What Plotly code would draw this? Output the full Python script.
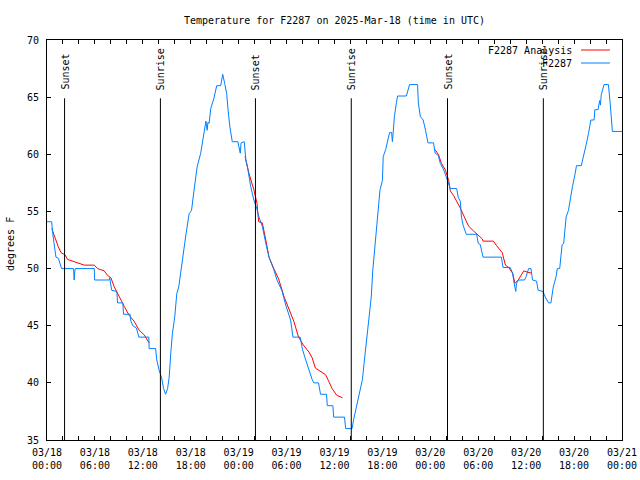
import pandas as pd
import plotly.graph_objects as go

BASE = pd.Timestamp("2025-03-18 00:00")

# Observed temperature (hours after 03/18 00:00 UTC, degrees F)
obs_hours = [0.00, 0.58, 0.71, 0.92, 1.12, 1.42, 1.62, 1.83, 3.33, 3.40, 3.46, 3.54, 5.92, 5.96,
             7.79, 7.85, 8.10, 8.75, 8.83, 9.50, 9.58, 10.40, 10.50, 10.75, 11.20, 11.50, 12.75,
             12.79, 13.60, 13.75, 14.04, 14.33, 14.60, 14.85, 15.10, 15.30, 15.50, 15.70, 16.00,
             16.25, 16.50, 16.80, 17.20, 17.40, 17.80, 18.10, 18.40, 18.80, 19.25, 19.46, 19.90,
             20.05, 20.15, 20.30, 20.50, 20.90, 21.25, 21.75, 22.00, 22.25, 22.50, 22.67, 22.90,
             23.20, 23.90, 24.20, 24.30, 24.70, 24.90, 25.10, 25.50, 25.90, 26.25, 26.50, 26.96,
             27.40, 27.80, 28.40, 28.80, 29.40, 29.90, 30.50, 30.80, 31.70, 32.00, 32.40, 32.80,
             33.20, 33.40, 34.00, 34.25, 35.00, 35.10, 35.80, 35.90, 37.25, 37.40, 38.20, 38.40,
             38.80, 39.20, 39.50, 39.70, 40.00, 40.30, 40.60, 40.80, 41.10, 41.40, 41.70, 42.00,
             42.10, 42.40, 42.60, 42.90, 43.15, 43.25, 43.35, 43.50, 43.75, 43.90, 45.00, 45.30,
             45.40, 46.40, 46.50, 46.75, 47.10, 47.40, 47.70, 48.40, 48.60, 49.00, 49.25, 49.70,
             50.00, 50.20, 50.50, 51.30, 51.50, 51.75, 51.90, 52.10, 52.50, 53.80, 54.00, 54.25,
             54.60, 56.90, 57.10, 58.00, 58.30, 58.50, 58.70, 58.80, 59.00, 59.80, 60.00, 60.30,
             60.60, 60.80, 61.30, 61.50, 62.10, 62.40, 62.80, 63.10, 63.40, 63.75, 63.90, 64.20,
             64.50, 64.70, 65.00, 65.30, 65.50, 65.80, 66.10, 66.30, 66.90, 67.20, 67.50, 67.80,
             68.10, 68.50, 68.60, 69.00, 69.20, 69.30, 69.40, 69.75, 70.30, 70.50, 70.60, 70.80,
             72.00]
obs_temps = [54.1, 54.1, 53.1, 52.2, 51.0, 50.9, 50.5, 50.0, 50.0, 49.0, 49.6, 50.0, 50.0, 49.0,
             49.0, 49.2, 48.1, 48.0, 47.0, 47.0, 46.0, 46.0, 45.4, 45.0, 44.8, 44.0, 44.0,
             43.0, 43.0, 42.0, 41.1, 40.5, 39.5, 39.0, 39.5, 40.5, 42.6, 44.3, 45.8,
             47.8, 48.4, 50.1, 51.9, 53.0, 54.8, 55.1, 56.8, 58.9, 60.1, 61.1, 62.9,
             62.1, 62.8, 62.7, 64.0, 64.9, 66.0, 66.0, 67.0, 66.2, 65.3, 63.9, 62.4,
             61.1, 61.1, 60.1, 61.0, 61.1, 59.5, 58.9, 57.2, 56.0, 55.3, 54.6, 53.7,
             52.2, 51.0, 49.9, 49.0, 48.1, 46.8, 45.5, 44.0, 44.0, 42.9, 42.0, 41.1,
             40.3, 40.0, 40.0, 39.0, 39.0, 38.0, 38.0, 37.0, 37.0, 36.0, 36.0, 36.8,
             38.0, 39.4, 40.3, 41.7, 43.5, 45.2, 47.5, 49.9, 52.2, 54.5, 56.9, 57.7,
             59.8, 60.4, 61.1, 61.9, 61.9, 61.1, 61.9, 63.3, 64.5, 65.1, 65.1, 65.8,
             66.1, 66.1, 64.5, 63.3, 63.0, 62.1, 61.0, 61.0, 60.1, 59.9, 59.2, 58.6,
             58.0, 57.6, 57.0, 57.0, 56.2, 55.9, 54.5, 53.8, 53.0, 53.0, 52.2, 52.1,
             51.0, 51.0, 50.1, 50.1, 49.6, 48.7, 48.0, 48.7, 49.0, 49.0, 49.3, 50.0,
             50.0, 49.0, 48.9, 48.1, 48.0, 47.5, 47.0, 47.0, 48.4, 49.3, 50.0, 50.0,
             52.1, 52.2, 54.5, 55.1, 56.0, 57.2, 58.2, 59.0, 59.0, 59.8, 60.8, 61.8,
             63.0, 63.0, 63.9, 63.9, 64.7, 64.3, 65.2, 66.1, 66.1, 64.6, 63.6, 62.0,
             62.0]

# Analysis temperature (three separate segments; None marks the gaps)
ana_hours = [0.60, 0.83, 1.125, 1.42, 1.75, 2.25, 2.58, 3.42, 4.67, 5.92, 6.33, 6.75, 7.17, 7.58,
             8.00, 8.42, 9.04, 9.67, 10.29, 10.90, 11.54, 12.17, 12.79, None,
             24.80, 25.30, 25.90, 26.30, 26.50, 26.96, 27.40, 27.80, 28.40, 29.00, 29.70, 30.30,
             30.90, 31.50, 32.10, 32.80, 33.20, 33.60, 34.25, 34.90, 35.30, 35.70, 36.30, 37.00, None,
             48.60, 49.00, 49.40, 49.90, 50.30, 50.50, 50.90, 51.30, 51.75, 52.20, 52.80, 53.40,
             54.00, 54.50, 54.60, 55.90, 56.30, 56.75, 57.00, 57.40, 57.80, 58.30, 58.60, 59.00,
             59.70, 60.10, 60.70]
ana_temps = [53.5, 53.0, 52.5, 51.9, 51.4, 51.2, 50.8, 50.6, 50.3, 50.3, 50.0, 49.9, 49.8, 49.4,
             49.2, 48.4, 47.5, 46.7, 45.9, 45.4, 44.6, 44.2, 43.5, None,
             59.8, 58.3, 56.9, 55.7, 54.1, 54.0, 52.5, 51.0, 50.0, 49.1, 47.5, 46.4,
             45.4, 44.0, 43.3, 42.7, 42.2, 41.3, 41.0, 40.7, 40.1, 39.5, 38.9, 38.7, None,
             60.4, 60.0, 59.2, 58.6, 57.7, 56.8, 56.4, 55.9, 55.3, 54.6, 53.7, 53.3,
             52.9, 52.6, 52.4, 52.4, 52.0, 51.6, 51.4, 50.3, 50.1, 49.6, 48.7, 49.0,
             49.8, 49.7, 49.6]

# Sun events (hours after 03/18 00:00 UTC)
sun_hours = [2.20, 14.20, 26.10, 38.10, 50.15, 62.15]
sun_labels = ["Sunset", "Sunrise", "Sunset", "Sunrise", "Sunset", "Sunrise"]

# X tick positions (hours) and labels
xtick_hours = [0, 6, 12, 18, 24, 30, 36, 42, 48, 54, 60, 66, 72]
xtick_labels = ["03/18<br>00:00", "03/18<br>06:00", "03/18<br>12:00", "03/18<br>18:00",
                "03/19<br>00:00", "03/19<br>06:00", "03/19<br>12:00", "03/19<br>18:00",
                "03/20<br>00:00", "03/20<br>06:00", "03/20<br>12:00", "03/20<br>18:00",
                "03/21<br>00:00"]
ytick_vals = [35, 40, 45, 50, 55, 60, 65, 70]

series_names = ["F2287 Analysis", "F2287"]
RED = "#ff0000"
BLUE = "#0080ff"
FONT = "DejaVu Sans Mono"


def to_time(hours):
    return [None if h is None else BASE + pd.Timedelta(hours=h) for h in hours]


fig = go.Figure()
fig.add_trace(go.Scatter(x=to_time(ana_hours), y=ana_temps, mode="lines",
                         line=dict(color=RED, width=1), name=series_names[0],
                         connectgaps=False, showlegend=False))
fig.add_trace(go.Scatter(x=to_time(obs_hours), y=obs_temps, mode="lines",
                         line=dict(color=BLUE, width=1), name=series_names[1],
                         showlegend=False))

shapes = []
annotations = []
for h, lab in zip(sun_hours, sun_labels):
    t = BASE + pd.Timedelta(hours=h)
    shapes.append(dict(type="line", xref="x", yref="y", x0=t, x1=t, y0=35, y1=64.9,
                       line=dict(color="black", width=1)))
    annotations.append(dict(x=t, y=65.45, xref="x", yref="y", text=lab, showarrow=False,
                            textangle=-90, xanchor="center", yanchor="bottom",
                            font=dict(family=FONT, size=10, color="black")))

# gnuplot-style key (text right-aligned, sample line on the right)
key_rows = [(0.975, RED), (0.9425, BLUE)]
for name, (ky, col) in zip(series_names, key_rows):
    annotations.append(dict(x=0.9165, y=ky, xref="paper", yref="paper", text=name,
                            showarrow=False, xanchor="right", yanchor="middle",
                            font=dict(family=FONT, size=10, color="black")))
    shapes.append(dict(type="line", xref="paper", yref="paper", x0=0.9287, x1=0.979,
                       y0=ky, y1=ky, line=dict(color=col, width=1)))

# y axis title
annotations.append(dict(x=-0.0643, y=0.49, xref="paper", yref="paper", text="degrees F",
                        showarrow=False, textangle=-90, xanchor="center", yanchor="middle",
                        font=dict(family=FONT, size=10, color="black")))

fig.update_layout(
    width=640, height=480,
    margin=dict(l=47, r=18, t=40, b=40, autoexpand=False),
    paper_bgcolor="white", plot_bgcolor="white",
    font=dict(family=FONT, size=10, color="black"),
    title=dict(text="Temperature for F2287 on 2025-Mar-18 (time in UTC)",
               x=0.5, xref="paper", xanchor="center",
               y=1 - 20 / 480, yref="container", yanchor="middle",
               font=dict(family=FONT, size=10, color="black"),
               automargin=False),
    shapes=shapes, annotations=annotations,
    showlegend=False,
)
fig.update_xaxes(
    type="date", automargin=False,
    range=[BASE, BASE + pd.Timedelta(hours=72)],
    tickvals=to_time(xtick_hours), ticktext=xtick_labels,
    ticks="inside", ticklen=4, tickcolor="black", tickwidth=1, ticklabelstandoff=3,
    minor=dict(dtick=2 * 3600 * 1000, tick0=BASE, ticks="inside", ticklen=4,
               tickcolor="black", showgrid=False),
    showline=True, linecolor="black", linewidth=1, mirror="allticks",
    showgrid=False, zeroline=False,
    tickfont=dict(family=FONT, size=10, color="black"),
)
fig.update_yaxes(
    range=[35, 70], tickvals=ytick_vals, automargin=False,
    ticks="inside", ticklen=4, tickcolor="black", tickwidth=1, ticklabelstandoff=5,
    showline=True, linecolor="black", linewidth=1, mirror="allticks",
    showgrid=False, zeroline=False,
    tickfont=dict(family=FONT, size=10, color="black"),
)

fig.write_html(
    "out.html",
    config={"displayModeBar": False},
    post_script="document.body.style.margin='0';document.body.style.padding='0';"
                "document.body.style.overflow='hidden';",
)
